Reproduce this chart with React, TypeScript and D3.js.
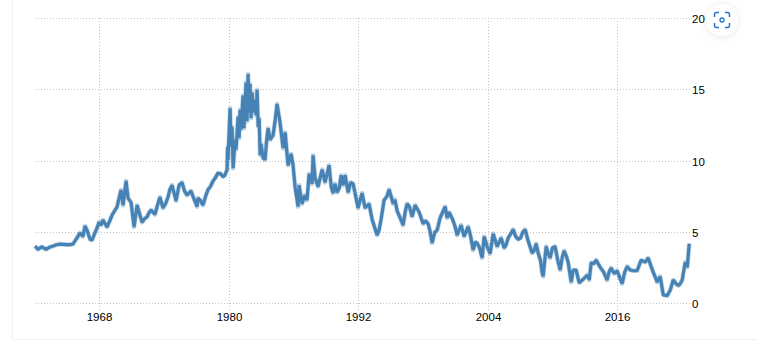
import { useEffect, useRef } from 'react'
import * as d3 from 'd3'

const W = 757
const H = 353

const YEAR_TICKS = [1968, 1980, 1992, 2004, 2016]
const VALUE_TICKS = [0, 5, 10, 15, 20]

const YEARS = [
  1962.0, 1962.28, 1962.62, 1963.02, 1963.35, 1963.67, 1964.0, 1964.32, 1964.87, 1965.2,
  1965.52, 1965.89, 1966.17, 1966.45, 1966.63, 1966.82, 1967.1, 1967.28, 1967.75, 1967.93,
  1968.12, 1968.3, 1968.67, 1968.9, 1969.14, 1969.6, 1969.79, 1969.97, 1970.16, 1970.44,
  1970.62, 1970.9, 1971.18, 1971.46, 1971.92, 1972.15, 1972.38, 1972.55, 1972.75, 1973.12,
  1973.35, 1973.58, 1973.86, 1974.1, 1974.33, 1974.5, 1974.7, 1975.07, 1975.35, 1975.63,
  1975.85, 1976.09, 1976.46, 1976.75, 1977.02, 1977.11, 1977.35, 1977.57, 1977.8, 1978.04,
  1978.25, 1978.5, 1978.7, 1978.96, 1979.2, 1979.43, 1979.6, 1979.8, 1979.85, 1979.89,
  1980.08, 1980.17, 1980.26, 1980.36, 1980.54, 1980.63, 1980.82, 1980.91, 1981.0, 1981.09,
  1981.28, 1981.37, 1981.56, 1981.65, 1981.75, 1981.84, 1981.93, 1982.02, 1982.12, 1982.21,
  1982.4, 1982.49, 1982.58, 1982.68, 1982.77, 1982.86, 1982.95, 1983.14, 1983.32, 1983.45,
  1983.6, 1983.79, 1984.06, 1984.25, 1984.43, 1984.71, 1984.99, 1985.18, 1985.45, 1985.73,
  1985.9, 1986.1, 1986.38, 1986.47, 1986.75, 1987.0, 1987.21, 1987.4, 1987.68, 1987.77,
  1987.96, 1988.23, 1988.61, 1988.88, 1989.25, 1989.45, 1989.62, 1989.8, 1989.99, 1990.2,
  1990.37, 1990.55, 1990.74, 1991.02, 1991.25, 1991.48, 1991.7, 1991.94, 1992.31, 1992.59,
  1992.96, 1993.24, 1993.45, 1993.7, 1993.9, 1994.07, 1994.35, 1994.6, 1994.82, 1995.19,
  1995.35, 1995.56, 1995.84, 1996.11, 1996.3, 1996.48, 1996.7, 1996.95, 1997.23, 1997.6,
  1997.97, 1998.2, 1998.43, 1998.6, 1998.8, 1999.05, 1999.27, 1999.54, 2000.01, 2000.19,
  2000.38, 2000.7, 2000.93, 2001.12, 2001.49, 2001.77, 2002.14, 2002.35, 2002.6, 2002.8,
  2002.97, 2003.2, 2003.44, 2003.62, 2003.9, 2004.18, 2004.46, 2004.83, 2005.2, 2005.48,
  2005.65, 2005.85, 2006.1, 2006.31, 2006.55, 2006.78, 2007.0, 2007.2, 2007.42, 2007.7,
  2008.07, 2008.25, 2008.44, 2008.63, 2008.85, 2009.0, 2009.09, 2009.37, 2009.55, 2009.74,
  2009.95, 2010.2, 2010.45, 2010.67, 2010.85, 2011.04, 2011.25, 2011.41, 2011.69, 2011.87,
  2012.15, 2012.43, 2012.8, 2013.17, 2013.36, 2013.54, 2013.8, 2014.0, 2014.37, 2014.7,
  2015.02, 2015.2, 2015.39, 2015.67, 2015.95, 2016.2, 2016.41, 2016.65, 2016.88, 2017.15,
  2017.43, 2017.8, 2018.0, 2018.18, 2018.55, 2018.83, 2019.05, 2019.29, 2019.45, 2019.66,
  2019.94, 2020.22, 2020.59, 2020.87, 2021.15, 2021.4, 2021.61, 2021.8, 2021.98, 2022.1,
  2022.26, 2022.45, 2022.63,
]

const VALUES = [
  4.03, 3.8, 3.98, 3.8, 3.95, 4.03, 4.12, 4.17, 4.13, 4.13,
  4.17, 4.6, 4.95, 4.7, 5.44, 5.15, 4.5, 4.45, 5.3, 5.7,
  5.5, 5.85, 5.37, 5.75, 6.2, 6.77, 7.4, 7.96, 6.9, 8.6,
  7.4, 7.1, 5.37, 6.9, 5.7, 5.95, 6.07, 6.35, 6.56, 6.25,
  6.9, 7.47, 6.7, 7.0, 7.47, 8.0, 8.3, 7.2, 8.3, 8.5,
  7.9, 7.6, 7.9, 7.3, 6.8, 7.4, 7.2, 6.9, 7.5, 8.0,
  8.2, 8.6, 8.8, 9.15, 9.1, 8.9, 9.0, 9.4, 11, 10.1,
  13.7, 11, 12.4, 9.5, 11.5, 10.8, 13.1, 11.6, 13.6, 12.2,
  14.6, 12.3, 15.5, 12.8, 16.1, 13.4, 15.4, 13, 14.8, 13.4,
  14.3, 13.2, 15, 12.4, 13, 10.4, 11.2, 10.2, 10.1, 11.3,
  12.3, 11.5, 11.8, 12.8, 14, 12.7, 10.9, 12, 9.7, 10.5,
  9.8, 8.2, 6.8, 8.3, 7, 7.6, 7.25, 9.1, 8.4, 10.4,
  8.8, 8.2, 9.4, 8.5, 9.7, 8.2, 7.75, 8.4, 7.8, 8.1,
  9, 8.3, 9, 7.8, 8.5, 8.4, 7.6, 6.7, 7.75, 6.7,
  7, 5.9, 5.4, 4.8, 5.2, 5.9, 7.25, 7.5, 8, 7,
  7.3, 6.5, 6, 5.5, 6.4, 7, 6.8, 6.1, 6.9, 6.4,
  5.6, 5.8, 5.6, 5.1, 4.25, 5.0, 5.15, 6, 6.8, 6,
  6.4, 5.9, 5.4, 4.8, 5.5, 4.7, 5.4, 4.8, 3.75, 4.3,
  4.25, 3.9, 3.2, 4.7, 4.0, 3.5, 4.9, 4, 4.6, 3.9,
  4.1, 4.6, 4.9, 5.2, 4.7, 4.5, 4.6, 5.0, 5.2, 4.4,
  3.55, 3.7, 4.2, 3.55, 3.0, 2.15, 1.9, 4, 3.5, 3.2,
  3.9, 4, 3.0, 2.35, 3.2, 3.7, 3.3, 2.9, 1.5, 2.35,
  2.35, 1.45, 1.7, 2, 1.65, 2.85, 2.8, 3.05, 2.55, 2.2,
  1.65, 2.2, 2.5, 2.1, 2.3, 1.8, 1.4, 2.2, 2.6, 2.35,
  2.3, 2.3, 2.7, 3.05, 2.9, 3.2, 2.7, 2.2, 1.9, 1.5,
  1.9, 0.6, 0.55, 0.95, 1.65, 1.4, 1.25, 1.4, 1.65, 2.2,
  2.9, 2.55, 4.2,
]

const FONT = '"Liberation Sans", Arial, sans-serif'

export default function App() {
  const svgRef = useRef<SVGSVGElement>(null)

  useEffect(() => {
    const svg = d3.select(svgRef.current)
    svg.selectAll('*').remove()

    const x = d3.scaleLinear().domain([1962, 2022.7]).range([35, 690])
    const y = d3.scaleLinear().domain([0, 20]).range([303.5, 18.5])

    // Card edge
    svg.append('path')
      .attr('d', `M12.5,0V339.5H${W}`)
      .attr('fill', 'none').attr('stroke', '#f0f0f0')

    // Horizontal grid + labels on the right
    svg.append('g').attr('transform', 'translate(690,0)')
      .call(d3.axisRight(y).tickValues(VALUE_TICKS).tickSize(-655).tickPadding(2))
      .call(g => {
        g.select('.domain').remove()
        g.selectAll('.tick').attr('transform', d => `translate(0,${Math.floor(y(d as number)) + 0.5})`)
        g.selectAll('.tick line').attr('stroke', '#c4c4c4').attr('stroke-dasharray', '1,2')
        g.selectAll('.tick text').attr('fill', '#000').attr('font-size', '11.5px').attr('font-family', FONT).attr('dy', '0.42em')
      })

    // Vertical grid + year labels
    svg.append('g').attr('transform', 'translate(0,310)')
      .call(d3.axisBottom(x).tickValues(YEAR_TICKS).tickFormat(d => String(d)).tickSize(-292).tickPadding(3))
      .call(g => {
        g.select('.domain').remove()
        g.selectAll('.tick').attr('transform', d => `translate(${Math.floor(x(d as number)) + 0.5},0)`)
        g.selectAll('.tick line').attr('stroke', '#c4c4c4').attr('stroke-dasharray', '1,2')
        g.selectAll('.tick text').attr('fill', '#000').attr('font-size', '11.5px').attr('font-family', FONT)
      })

    const line = d3.line<number>()
      .x((_, i) => x(YEARS[i]))
      .y(d => y(d))

    // Soft edge under the line, the daily noise blurs the outline in the original
    svg.append('path').datum(VALUES)
      .attr('d', line)
      .attr('fill', 'none')
      .attr('stroke', '#4682b4')
      .attr('stroke-opacity', 0.35)
      .attr('stroke-width', 4.6)
      .attr('stroke-linejoin', 'round')

    svg.append('path').datum(VALUES)
      .attr('d', line)
      .attr('fill', 'none')
      .attr('stroke', '#4682b4')
      .attr('stroke-width', 3.2)
      .attr('stroke-linejoin', 'bevel')

    // Screenshot button
    const defs = svg.append('defs')
    defs.append('filter').attr('id', 'btn-shadow')
      .attr('x', '-50%').attr('y', '-50%').attr('width', '200%').attr('height', '200%')
      .append('feDropShadow')
      .attr('dx', 0).attr('dy', 1).attr('stdDeviation', 3)
      .attr('flood-color', '#000').attr('flood-opacity', 0.1)

    const btn = svg.append('g').attr('transform', 'translate(722,20)')
    btn.append('circle').attr('r', 16).attr('fill', '#fff').attr('filter', 'url(#btn-shadow)')
    btn.append('path')
      .attr('d', 'M-7.5,-3V-5.5A2,2 0 0 1 -5.5,-7.5H-3M3,-7.5H5.5A2,2 0 0 1 7.5,-5.5V-3M7.5,3V5.5A2,2 0 0 1 5.5,7.5H3M-3,7.5H-5.5A2,2 0 0 1 -7.5,5.5V3')
      .attr('fill', 'none').attr('stroke', '#1f77c9').attr('stroke-width', 1.5)
    btn.append('circle').attr('r', 2).attr('fill', 'none').attr('stroke', '#1f77c9').attr('stroke-width', 1.3)
  }, [])

  return (
    <svg
      ref={svgRef}
      width={W}
      height={H}
      style={{ position: 'absolute', left: 0, top: 0, display: 'block', background: '#fff' }}
    />
  )
}
